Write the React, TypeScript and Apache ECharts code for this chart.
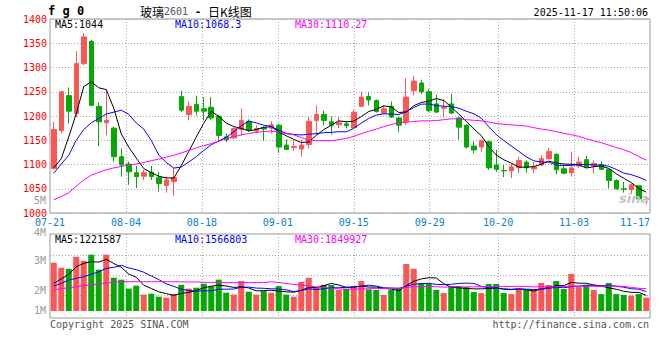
import React, { useEffect, useRef } from 'react';
import * as echarts from 'echarts';

const dates = [
  '07-21','07-22','07-23','07-24','07-25','07-28','07-29','07-30','07-31','08-01',
  '08-04','08-05','08-06','08-07','08-08','08-11','08-12','08-13','08-14','08-15',
  '08-18','08-19','08-20','08-21','08-22','08-25','08-26','08-27','08-28','08-29',
  '09-01','09-02','09-03','09-04','09-05','09-08','09-09','09-10','09-11','09-12',
  '09-15','09-16','09-17','09-18','09-19','09-22','09-23','09-24','09-25','09-26',
  '09-29','09-30','10-09','10-10','10-13','10-14','10-15','10-16','10-17','10-20',
  '10-21','10-22','10-23','10-24','10-27','10-28','10-29','10-30','10-31','11-03',
  '11-04','11-05','11-06','11-07','11-10','11-11','11-12','11-13','11-14','11-17',
];

const opens = [
  1092,1170,1242,1205,1308,1354,1220,1186,1175,1116,
  1101,1083,1076,1084,1073,1057,1065,1240,1203,1224,
  1215,1218,1199,1157,1155,1172,1189,1169,1176,1175,
  1181,1140,1135,1132,1141,1191,1203,1188,1182,1184,
  1176,1220,1240,1232,1206,1220,1196,1188,1252,1268,
  1250,1225,1216,1225,1196,1181,1138,1136,1147,1099,
  1088,1087,1094,1105,1091,1099,1112,1121,1091,1083,
  1097,1110,1097,1100,1090,1067,1050,1048,1056,1028,
];
const closes = [
  1172,1250,1210,1308,1363,1222,1188,1191,1116,1099,
  1085,1075,1083,1075,1061,1068,1073,1212,1220,1210,
  1210,1196,1160,1151,1174,1191,1171,1174,1173,1182,
  1136,1131,1137,1140,1189,1203,1191,1181,1186,1180,
  1208,1239,1233,1209,1215,1198,1181,1239,1272,1250,
  1211,1208,1218,1206,1177,1136,1130,1149,1093,1090,
  1087,1095,1108,1093,1095,1112,1127,1089,1082,1093,
  1105,1095,1102,1090,1067,1050,1049,1058,1029,1029,
];
const highs = [
  1188,1252,1259,1334,1371,1357,1228,1254,1178,1133,
  1106,1097,1089,1097,1085,1075,1092,1252,1230,1242,
  1239,1239,1202,1164,1177,1215,1193,1181,1179,1189,
  1184,1152,1150,1151,1198,1222,1211,1199,1199,1189,
  1213,1250,1249,1234,1222,1230,1198,1278,1283,1275,
  1256,1244,1235,1246,1198,1183,1147,1151,1149,1130,
  1099,1101,1116,1108,1105,1119,1134,1123,1102,1126,
  1116,1118,1108,1106,1090,1069,1064,1061,1058,1034,
];
const lows = [
  1090,1164,1184,1198,1305,1220,1138,1160,1106,1075,
  1058,1051,1068,1068,1044,1042,1036,1208,1191,1201,
  1191,1192,1147,1146,1152,1160,1167,1165,1149,1164,
  1124,1130,1128,1116,1133,1162,1181,1162,1175,1174,
  1174,1218,1222,1207,1204,1196,1167,1181,1242,1245,
  1208,1206,1196,1204,1151,1133,1123,1126,1089,1085,
  1074,1072,1082,1083,1082,1097,1110,1080,1080,1075,
  1093,1094,1082,1089,1051,1048,1042,1040,1027,1018,
];
const volumes = [
  3770000,3380000,3300000,4240000,3930000,4400000,3230000,4400000,2600000,2450000,
  1750000,1980000,1280000,1350000,1120000,1040000,1320000,2050000,1750000,1820000,
  2130000,1930000,2450000,1430000,1280000,2340000,1510000,1280000,1560000,1430000,
  1950000,1280000,1120000,2280000,2600000,1820000,2050000,2030000,1640000,1720000,
  1950000,2340000,1690000,1640000,1250000,1640000,1720000,3670000,3300000,2190000,
  2110000,1640000,1400000,1950000,1950000,1870000,1480000,1400000,2110000,2110000,
  1400000,1320000,1720000,1720000,1640000,2190000,2030000,2340000,1720000,2890000,
  1870000,2030000,1640000,1320000,2190000,1320000,1250000,1200000,1320000,1040000,
];

// moving-average values before the window is full (they need earlier days)
const priceMa5Early = [1093, 1112, 1157, 1205];
const priceMa10Early = [1082, 1101, 1119, 1150, 1172, 1186, 1195, 1204, 1208];
const priceMa30Early = [
  1027,1034,1042,1055,1068,1078,1084,1089,1093,1096,
  1099,1101,1104,1108,1111,1115,1119,1124,1129,1134,
  1139,1143,1148,1153,1157,1161,1164,1166,1168,
];
const volMa5Early = [2160000, 2500000, 2860000, 3460000];
const volMa10Early = [1950000,2160000,2420000,2550000,2680000,2860000,3070000,3330000,3410000];
const volMa30Early = [
  1640000,1750000,1800000,1900000,1980000,2030000,2110000,2180000,2270000,2290000,
  2290000,2290000,2290000,2290000,2290000,2290000,2290000,2270000,2270000,2270000,
  2240000,2240000,2240000,2220000,2220000,2220000,2220000,2220000,2220000,
];

const xTickLabels = ['07-21','08-04','08-18','09-01','09-15','09-29','10-20','11-03','11-17'];
const volTickLabels = ['5M', '4M', '3M', '2M', '1M'];
const priceMaText = ['MA5:1044', 'MA10:1068.3', 'MA30:1110.27'];
const volMaText = ['MA5:1221587', 'MA10:1566803', 'MA30:1849927'];
const titleCode = 'f g 0';
const titleName = '玻璃';
const titleContract = '2601';
const titleDash = ' - ';
const titleKind = '日K线图';
const timestamp = '2025-11-17 11:50:06';
const copyrightText = 'Copyright 2025 SINA.COM';
const urlText = 'http://finance.sina.com.cn';

function movingAverage(values: number[], n: number, early: number[]) {
  return values.map((_, i) => {
    if (i < n - 1) return early[i];
    let s = 0;
    for (let k = i - n + 1; k <= i; k++) s += values[k];
    return Math.round((s / n) * 100) / 100;
  });
}

const RED = '#fb5656';
const GREEN = '#06a806';
const MONO = '"DejaVu Sans Mono", monospace';
const GRIDLINE = { color: '#a8a8a8', type: [1, 2] as number[], width: 1 };

function buildOption() {
  const tickSet = new Set(xTickLabels);
  const showLabel = (_i: number, v: string) => tickSet.has(v);
  const showSplit = (i: number, v: string) => tickSet.has(v) && i !== 0 && i !== dates.length - 1;

  const candleData = dates.map((_, i) => [opens[i], closes[i], lows[i], highs[i]]);
  const volData = volumes.map((v, i) => ({
    value: v,
    itemStyle: { color: closes[i] >= opens[i] ? RED : GREEN },
  }));

  const lineSeries = (name: string, data: number[], color: string, xi: number, yi: number) => ({
    name,
    type: 'line',
    xAxisIndex: xi,
    yAxisIndex: yi,
    data,
    showSymbol: false,
    symbol: 'none',
    silent: true,
    lineStyle: { color, width: 1 },
    z: 5,
  });

  const txt = (text: string, x: number, y: number, fill: string, align = 'left', font = `10px ${MONO}`) => ({
    type: 'text',
    x,
    y,
    silent: true,
    z: 100,
    style: {
      text,
      fill,
      font,
      align,
      verticalAlign: 'middle',
      textAlign: align,
      textVerticalAlign: 'middle',
      lineHeight: 9,
    },
  });

  const volLabelY = [200.5, 232, 260.5, 290.5, 310.5];

  return {
    animation: false,
    backgroundColor: '#ffffff',
    grid: [
      { left: 50, right: 10, top: 19, height: 194, show: true, borderColor: '#999', borderWidth: 1 },
      { left: 50, right: 10, top: 234, height: 84, show: true, borderColor: '#999', borderWidth: 1 },
      { left: 50, right: 10, top: 235.7, height: 60, show: false },
    ],
    xAxis: [
      { type: 'category', gridIndex: 0, data: dates, boundaryGap: true, position: 'top', show: false },
      {
        type: 'category', gridIndex: 0, data: dates, boundaryGap: false, position: 'bottom',
        axisLine: { show: false }, axisTick: { show: false },
        axisLabel: {
          interval: showLabel, color: '#0a80d0', fontSize: 10, fontFamily: MONO, margin: 5,
          lineHeight: 9, alignMaxLabel: 'right', showMaxLabel: true, showMinLabel: true,
        },
        splitLine: { show: true, interval: showSplit, lineStyle: GRIDLINE },
      },
      { type: 'category', gridIndex: 1, data: dates, boundaryGap: true, position: 'top', show: false },
      {
        type: 'category', gridIndex: 1, data: dates, boundaryGap: false, position: 'bottom',
        axisLine: { show: false }, axisTick: { show: false }, axisLabel: { show: false },
        splitLine: { show: true, interval: showSplit, lineStyle: GRIDLINE },
      },
      { type: 'category', gridIndex: 2, data: dates, position: 'bottom', show: false },
    ],
    yAxis: [
      {
        type: 'value', gridIndex: 0, min: 1000, max: 1400, interval: 50, position: 'left',
        axisLine: { show: false }, axisTick: { show: false },
        axisLabel: {
          color: '#ff0000', fontSize: 10, fontFamily: MONO, margin: 3, lineHeight: 9,
          formatter: (v: number) => String(v),
        },
        splitLine: { show: true, lineStyle: GRIDLINE },
      },
      { type: 'value', gridIndex: 1, min: -547000, max: 6016000, position: 'left', show: false },
      {
        type: 'value', gridIndex: 2, min: 0, max: 3, interval: 1, position: 'left',
        axisLine: { show: false }, axisTick: { show: false }, axisLabel: { show: false },
        splitLine: { show: true, showMaxLine: false, lineStyle: GRIDLINE },
      },
    ],
    series: [
      {
        type: 'candlestick', xAxisIndex: 0, yAxisIndex: 0, data: candleData, barWidth: 5,
        silent: true,
        itemStyle: { color: RED, color0: GREEN, borderColor: RED, borderColor0: GREEN, borderWidth: 1 },
      },
      lineSeries('MA5', movingAverage(closes, 5, priceMa5Early), '#000000', 0, 0),
      lineSeries('MA10', movingAverage(closes, 10, priceMa10Early), '#0000ff', 0, 0),
      lineSeries('MA30', movingAverage(closes, 30, priceMa30Early), '#ff00ff', 0, 0),
      { type: 'bar', xAxisIndex: 2, yAxisIndex: 1, data: volData, barWidth: 6, silent: true },
      lineSeries('VMA5', movingAverage(volumes, 5, volMa5Early), '#000000', 2, 1),
      lineSeries('VMA10', movingAverage(volumes, 10, volMa10Early), '#0000ff', 2, 1),
      lineSeries('VMA30', movingAverage(volumes, 30, volMa30Early), '#ff00ff', 2, 1),
    ],
    graphic: [
      txt(titleCode, 48, 11, '#000', 'left', `bold 12px ${MONO}`),
      {
        type: 'text', x: 140, y: 11, silent: true, z: 100,
        style: {
          text: `{a|${titleName}}{b|${titleContract}}{c|${titleDash}}{a|${titleKind}}`,
          verticalAlign: 'middle', textVerticalAlign: 'middle',
          rich: {
            a: { fill: '#000', font: '12px "Noto Sans CJK SC"' },
            b: { fill: '#555', font: `10px ${MONO}` },
            c: { fill: '#000', font: `bold 11px ${MONO}` },
          },
        },
      },
      txt(timestamp, 648, 12, '#000', 'right'),
      txt(priceMaText[0], 55, 24, '#000'),
      txt(priceMaText[1], 175, 24, '#0000ff'),
      txt(priceMaText[2], 295, 24, '#ff00ff'),
      txt(volMaText[0], 55, 239.5, '#000'),
      txt(volMaText[1], 175, 239.5, '#0000ff'),
      txt(volMaText[2], 295, 239.5, '#ff00ff'),
      ...volTickLabels.map((t, i) => txt(t, 46, volLabelY[i], '#9a9a9a', 'right')),
      txt(copyrightText, 50, 324, '#555'),
      txt(urlText, 649, 324, '#555', 'right'),
      txt('sina', 619, 198, '#c4c4c4', 'left', 'italic bold 13px "DejaVu Sans"'),
    ],
  };
}

export default function App() {
  const ref = useRef<HTMLDivElement>(null);
  useEffect(() => {
    if (!ref.current) return;
    const chart = echarts.init(ref.current, null, { renderer: 'svg' });
    chart.setOption(buildOption() as any);
    return () => chart.dispose();
  }, []);
  return (
    <div
      ref={ref}
      style={{ position: 'fixed', left: 0, top: 0, width: 660, height: 360, background: '#fff' }}
    />
  );
}
